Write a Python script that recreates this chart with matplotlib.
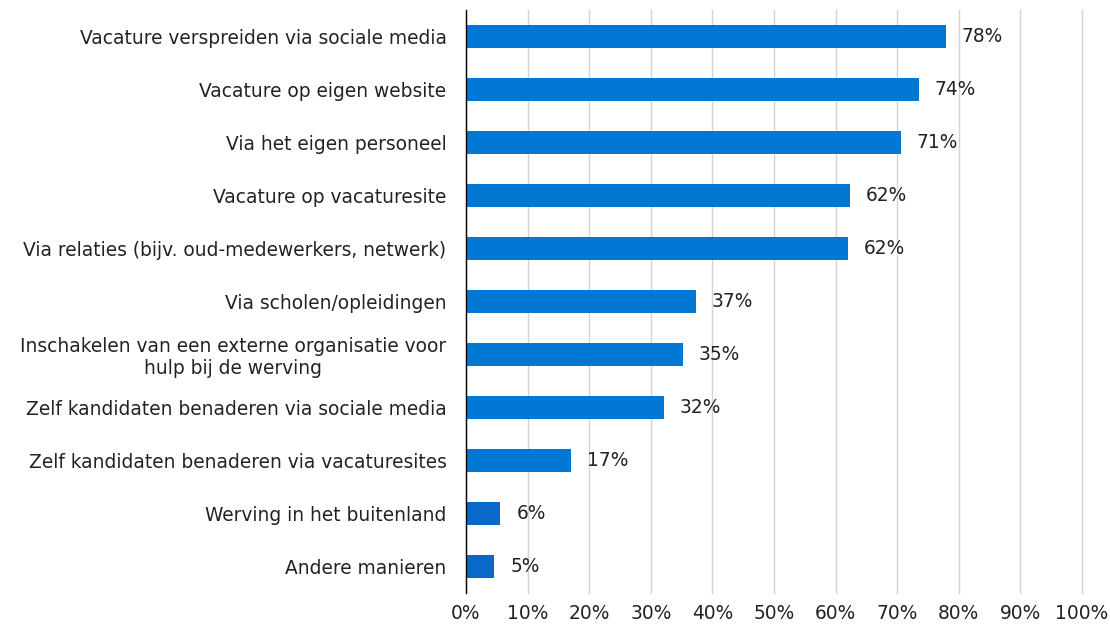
import matplotlib.pyplot as plt
import numpy as np

categories = [
    "Vacature verspreiden via sociale media",
    "Vacature op eigen website",
    "Via het eigen personeel",
    "Vacature op vacaturesite",
    "Via relaties (bijv. oud-medewerkers, netwerk)",
    "Via scholen/opleidingen",
    "Inschakelen van een externe organisatie voor\nhulp bij de werving",
    "Zelf kandidaten benaderen via sociale media",
    "Zelf kandidaten benaderen via vacaturesites",
    "Werving in het buitenland",
    "Andere manieren",
]
values = [77.9, 73.5, 70.6, 62.3, 62.0, 37.3, 35.2, 32.1, 17.0, 5.6, 4.6]
xticks = list(range(0, 101, 10))

plt.rcParams['font.family'] = ['DejaVu Sans']
fs = 13.4

fig = plt.figure(figsize=(11.1, 6.26), dpi=100)
ax = fig.add_axes([466 / 1110, 1 - 593 / 626, 616 / 1110, 583 / 626])

y = np.arange(len(categories))
colors = ['#0078D4'] * 9 + ['#0A68C8'] * 2
ax.barh(y, values, height=0.42, color=colors, zorder=3)

for yi, v in zip(y, values):
    ax.text(v + 2.6, yi, f"{v:.0f}%", va='center', ha='left', fontsize=fs, color='#222222')

ax.set_yticks(y)
ax.set_yticklabels(categories, fontsize=fs, color='#222222', ha='right', multialignment='center')
ax.tick_params(axis='y', length=0, pad=14)
ax.set_ylim(len(categories) - 0.5, -0.5)

ax.set_xlim(0, 100)
ax.set_xticks(xticks)
ax.set_xticklabels([f"{t}%" for t in xticks], fontsize=fs, color='#222222')
ax.tick_params(axis='x', length=0, pad=8)
ax.xaxis.grid(True, color='#D4D4D4', linewidth=1.0, zorder=0)
for gl in ax.get_xgridlines():
    gl.set_clip_on(False)

for s in ['top', 'right', 'bottom']:
    ax.spines[s].set_visible(False)
ax.spines['left'].set_color('#000000')
ax.spines['left'].set_linewidth(1.0)
ax.spines['left'].set_zorder(4)

fig.savefig('out.png', dpi=100)
